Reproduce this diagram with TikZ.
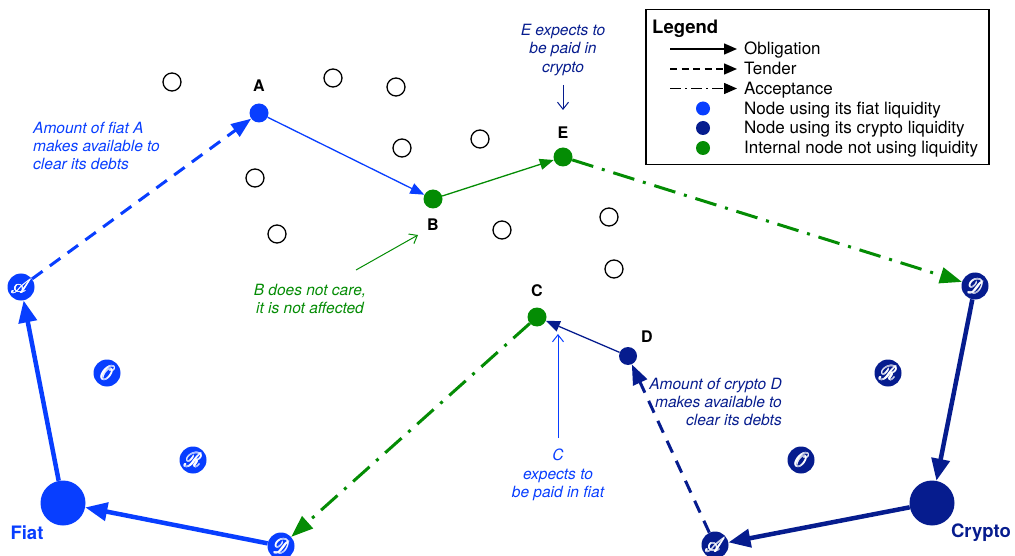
\documentclass[tikz,border=0pt]{standalone}
\usepackage{fontspec}
\setmainfont{TeX Gyre Heros}
\usepackage{mathrsfs}
\usetikzlibrary{arrows.meta}

\definecolor{fiatblue}{RGB}{8,62,255}
\definecolor{cryptoblue}{RGB}{6,28,142}
\definecolor{accgreen}{RGB}{4,140,4}

% script letter drawn inside the liquidity circles (overprinted for a heavier stroke)
\newcommand{\liqletter}[1]{\scalebox{2.0}{\ooalign{$\mathscr{#1}$\cr
  \kern0.22pt$\mathscr{#1}$\cr\raisebox{0.22pt}{$\mathscr{#1}$}\cr
  \kern0.22pt\raisebox{0.22pt}{$\mathscr{#1}$}\cr}}}

\begin{document}
\begin{tikzpicture}[x=1pt,y=-1pt,
  emptynode/.style={circle, draw=black, line width=1.3pt, fill=white, minimum size=18pt, inner sep=0pt},
  dotnode/.style={circle, fill=#1, minimum size=19pt, inner sep=0pt},
  scriptnode/.style={circle, fill=#1, minimum size=27pt, inner sep=0pt, text=white},
  bignode/.style={circle, fill=#1, minimum size=45pt, inner sep=0pt},
  lettername/.style={font=\bfseries\fontsize{16}{16}\selectfont},
  sidename/.style={font=\bfseries\fontsize{18.5}{18.5}\selectfont, text=#1},
  note/.style={font=\itshape\fontsize{15.5}{18.3}\selectfont, text=#1, inner sep=0pt},
  thinobl/.style={draw=#1, line width=1.3pt, -{Triangle[length=14pt,width=11pt]}},
  thickobl/.style={draw=#1, line width=4.5pt, -{Triangle[length=22pt,width=18pt]}},
  tender/.style={draw=#1, line width=3pt, dash pattern=on 13pt off 9pt,
    -{Triangle[length=20pt,width=15pt]}},
  acceptance/.style={draw=#1, line width=3pt, dash pattern=on 22pt off 9pt on 3pt off 9pt,
    -{Triangle[length=22pt,width=16pt]}},
  pointer/.style={draw=#1, line width=1pt, -{Straight Barb[length=7pt,width=11pt,line width=1pt]}},
  legline/.style={draw=black, line width=1.5pt, -{Triangle[length=13pt,width=11pt]}},
  legtext/.style={font=\fontsize{17}{17}\selectfont, anchor=base west, inner sep=0pt},
  legdot/.style={circle, fill=#1, minimum size=14pt, inner sep=0pt}
]
\useasboundingbox (0,0) rectangle (1015,556);

% ---------- uninvolved nodes ----------
\node[emptynode] (n1) at (172,82) {};
\node[emptynode] (n2) at (333,78) {};
\node[emptynode] (n3) at (396,87) {};
\node[emptynode] (n4) at (480,139) {};
\node[emptynode] (n5) at (402,148) {};
\node[emptynode] (n6) at (255,178) {};
\node[emptynode] (n7) at (277,234) {};
\node[emptynode] (n8) at (502,230) {};
\node[emptynode] (n9) at (609,217) {};
\node[emptynode] (n10) at (614,269) {};

% ---------- cycle nodes ----------
\node[dotnode=fiatblue] (A) at (259,113) {};
\node[dotnode=accgreen] (B) at (433,199) {};
\node[dotnode=accgreen] (E) at (563,157) {};
\node[dotnode=accgreen] (C) at (537,317) {};
\node[dotnode=cryptoblue, minimum size=18pt] (D) at (628,356) {};

\node[lettername] (Alab) at (259,86) {A};
\node[lettername] (Blab) at (433,225) {B};
\node[lettername] (Elab) at (563,133) {E};
\node[lettername] (Clab) at (537,291) {C};
\node[lettername] (Dlab) at (647,337) {D};

% ---------- fiat side ----------
\node[bignode=fiatblue] (fiat) at (63,503) {};
\node[sidename=fiatblue] (fiatlab) at (27,533) {Fiat};
\node[scriptnode=fiatblue] (fA) at (21,287) {\liqletter{A}};
\node[scriptnode=fiatblue] (fO) at (107,373) {\liqletter{O}};
\node[scriptnode=fiatblue] (fR) at (193,460) {\liqletter{R}};
\node[scriptnode=fiatblue] (fD) at (281,546) {\liqletter{D}};

% ---------- crypto side ----------
\node[bignode=cryptoblue] (crypto) at (932,503) {};
\node[sidename=cryptoblue] (cryptolab) at (981,533) {Crypto};
\node[scriptnode=cryptoblue] (cD) at (975,286) {\liqletter{D}};
\node[scriptnode=cryptoblue] (cR) at (888,373) {\liqletter{R}};
\node[scriptnode=cryptoblue] (cO) at (801,460) {\liqletter{O}};
\node[scriptnode=cryptoblue] (cA) at (715,545) {\liqletter{A}};

% ---------- obligations inside the network ----------
\draw[thinobl=fiatblue] (A) -- (B);
\draw[thinobl=accgreen] (B) -- (E);
\draw[thinobl=cryptoblue] (D) -- (C);

% ---------- acceptances ----------
\draw[acceptance=accgreen] (E) -- (cD);
\draw[acceptance=accgreen] (C) -- (fD);

% ---------- tenders ----------
\draw[tender=fiatblue] (fA) -- (A);
\draw[tender=cryptoblue] (cA) -- (D);

% ---------- liquidity obligations ----------
\draw[thickobl=fiatblue] (fiat) -- (fA);
\draw[thickobl=fiatblue] (fD) -- (fiat);
\draw[thickobl=cryptoblue] (cD) -- (crypto);
\draw[thickobl=cryptoblue] (crypto) -- (cA);

% ---------- notes ----------
\node[note=fiatblue, align=left, anchor=west] (noteA) at (33,146)
  {Amount of fiat A\\makes available to\\clear its debts};
\node[note=cryptoblue, align=center] (noteE) at (563,50)
  {E expects to\\be paid in\\crypto};
\coordinate (noteEs) at (563,85);
\coordinate (noteEt) at (563,110);
\draw[pointer=cryptoblue] (noteEs) -- (noteEt);

\node[note=accgreen, align=center] (noteB) at (310,299)
  {B does not care,\\it is not affected};
\coordinate (noteBs) at (356,270);
\coordinate (noteBt) at (418,235);
\draw[pointer=accgreen] (noteBs) -- (noteBt);

\node[note=fiatblue, align=center] (noteC) at (558,475)
  {C\\expects to\\be paid in fiat};
\coordinate (noteCs) at (558,438);
\coordinate (noteCt) at (558,334);
\draw[pointer=fiatblue] (noteCs) -- (noteCt);

\node[note=cryptoblue, align=right, anchor=east] (noteD) at (782,402)
  {Amount of crypto D\\makes available to\\clear its debts};

% ---------- legend ----------
\node[draw=black, line width=1.5pt, minimum width=343pt, minimum height=155pt,
      inner sep=0pt, anchor=north west] (legend) at (645,9) {};
\node[font=\bfseries\fontsize{18.5}{18.5}\selectfont, anchor=base west, inner sep=0pt] (legtitle) at (652,33.5) {Legend};

\coordinate (l1s) at (670,49); \coordinate (l1e) at (737,49);
\coordinate (l2s) at (670,69); \coordinate (l2e) at (737,69);
\coordinate (l3s) at (670,88.5); \coordinate (l3e) at (737,88.5);
\draw[legline] (l1s) -- (l1e);
\draw[legline, dash pattern=on 7pt off 4.5pt] (l2s) -- (l2e);
\draw[legline, dash pattern=on 11pt off 4pt on 2pt off 4pt] (l3s) -- (l3e);
\node[legtext] (t1) at (744,55) {Obligation};
\node[legtext] (t2) at (744,75) {Tender};
\node[legtext] (t3) at (744,94.5) {Acceptance};

\node[legdot=fiatblue] (d1) at (703,108.5) {};
\node[legdot=cryptoblue] (d2) at (703,128) {};
\node[legdot=accgreen] (d3) at (703,148) {};
\node[legtext] (t4) at (744,114.5) {Node using its fiat liquidity};
\node[legtext] (t5) at (744,134) {Node using its crypto liquidity};
\node[legtext] (t6) at (744,154) {Internal node not using liquidity};
\end{tikzpicture}
\end{document}
